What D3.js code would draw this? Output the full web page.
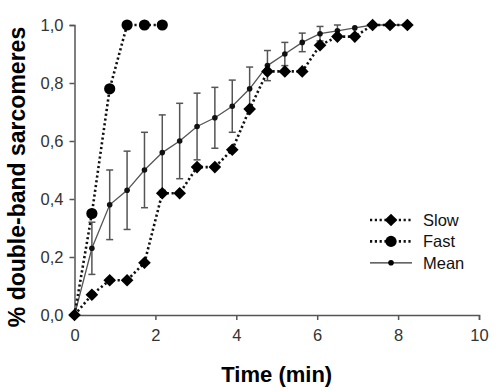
<!DOCTYPE html>
<html lang="en">
<head>
<meta charset="UTF-8">
<title>Double-band sarcomeres</title>
<script src="https://d3js.org/d3.v7.min.js"></script>
<style>
    body { margin: 0; background: #fff; }
    svg { display: block; font-family: "Liberation Sans", Arial, sans-serif; }
</style>
</head>
<body>
<svg width="500" height="391"></svg>
<script>
    // sample times (min) and series
    var times = [0, 0.43, 0.87, 1.3, 1.73, 2.17, 2.6, 3.03, 3.47, 3.9, 4.33, 4.77, 5.2, 5.63, 6.07, 6.5, 6.93, 7.37, 7.8, 8.23];
    var slow = [0, 0.07, 0.12, 0.12, 0.18, 0.42, 0.42, 0.51, 0.51, 0.57, 0.71, 0.84, 0.84, 0.84, 0.93, 0.96, 0.96, 1, 1, 1];
    var fast = [0, 0.35, 0.78, 1, 1, 1];
    var mean = [0, 0.23, 0.38, 0.43, 0.50, 0.56, 0.60, 0.65, 0.68, 0.72, 0.78, 0.86, 0.90, 0.94, 0.97, 0.98, 0.99, 1, 1, 1];
    var meanErr = [0, 0.09, 0.12, 0.135, 0.13, 0.13, 0.13, 0.115, 0.105, 0.09, 0.075, 0.052, 0.04, 0.032, 0.025, 0.02, 0, 0, 0, 0];
    var xTicks = [0, 2, 4, 6, 8, 10];
    var yTicks = [0, 0.2, 0.4, 0.6, 0.8, 1.0];
    var legendNames = ["Slow", "Fast", "Mean"];

    var svg = d3.select("svg");
    var axisColor = "#555";

    var x = d3.scaleLinear().domain([0, 10]).range([74.5, 479]);
    var y = d3.scaleLinear().domain([0, 1]).range([315, 25]);

    var commaFmt = function (d) { return d3.format(".1f")(d).replace(".", ","); };

    // x axis
    var gx = svg.append("g")
        .attr("transform", "translate(0," + y(0) + ")")
        .call(d3.axisBottom(x).tickValues(xTicks).tickSize(5).tickPadding(9).tickFormat(d3.format("d")));
    // y axis
    var gy = svg.append("g")
        .attr("transform", "translate(" + x(0) + ",0)")
        .call(d3.axisLeft(y).tickValues(yTicks).tickSize(5).tickPadding(6).tickFormat(commaFmt));

    [gx, gy].forEach(function (g) {
        g.select(".domain").attr("stroke", axisColor).attr("stroke-width", 1.5);
        g.selectAll(".tick line").attr("stroke", axisColor).attr("stroke-width", 1.5);
        g.selectAll(".tick text").attr("fill", "#333").style("font-size", "16.5px")
            .style("font-family", "'Liberation Sans', Arial, sans-serif");
    });

    // axis titles
    svg.append("text")
        .attr("x", (x(0) + x(10)) / 2 + 0)
        .attr("y", 382)
        .attr("text-anchor", "middle")
        .style("font-size", "22px")
        .style("font-weight", "bold")
        .text("Time (min)");
    svg.append("text")
        .attr("transform", "translate(25,177) rotate(-90)")
        .attr("text-anchor", "middle")
        .style("font-size", "23px")
        .style("font-weight", "bold")
        .text("% double-band sarcomeres");

    var line = d3.line().x(function (d) { return x(d[0]); }).y(function (d) { return y(d[1]); });
    var meanPts = times.map(function (t, i) { return [t, mean[i], meanErr[i]]; });
    var slowPts = times.map(function (t, i) { return [t, slow[i]]; });
    var fastPts = fast.map(function (v, i) { return [times[i], v]; });

    /* ---------- Mean with error bars ---------- */
    svg.append("path")
        .datum(meanPts)
        .attr("d", line)
        .attr("fill", "none")
        .attr("stroke", "#555")
        .attr("stroke-width", 1.3);

    var err = svg.append("g").selectAll("g")
        .data(meanPts.filter(function (d) { return d[2] > 0; }))
        .enter().append("g")
        .attr("stroke", "#555")
        .attr("stroke-width", 1.5);
    err.append("line")
        .attr("x1", function (d) { return x(d[0]); })
        .attr("x2", function (d) { return x(d[0]); })
        .attr("y1", function (d) { return y(d[1] + d[2]); })
        .attr("y2", function (d) { return y(d[1] - d[2]); });
    [1, -1].forEach(function (s) {
        err.append("line")
            .attr("x1", function (d) { return x(d[0]) - 3.5; })
            .attr("x2", function (d) { return x(d[0]) + 3.5; })
            .attr("y1", function (d) { return y(d[1] + s * d[2]); })
            .attr("y2", function (d) { return y(d[1] + s * d[2]); });
    });

    svg.append("g").selectAll("circle")
        .data(meanPts)
        .enter().append("circle")
        .attr("cx", function (d) { return x(d[0]); })
        .attr("cy", function (d) { return y(d[1]); })
        .attr("r", 2.8)
        .attr("fill", "#111");

    /* ---------- Slow and Fast ---------- */
    function dotted(pts) {
        svg.append("path")
            .datum(pts)
            .attr("d", line)
            .attr("fill", "none")
            .attr("stroke", "#111")
            .attr("stroke-width", 2.6)
            .attr("stroke-dasharray", "2.2,2.6");
    }
    dotted(slowPts);
    dotted(fastPts);

    var diamond = d3.symbol().type(d3.symbolSquare).size(80);
    svg.append("g").selectAll("path")
        .data(slowPts)
        .enter().append("path")
        .attr("d", diamond)
        .attr("transform", function (d) { return "translate(" + x(d[0]) + "," + y(d[1]) + ") rotate(45)"; })
        .attr("fill", "#000");

    svg.append("g").selectAll("circle")
        .data(fastPts.slice(1))
        .enter().append("circle")
        .attr("cx", function (d) { return x(d[0]); })
        .attr("cy", function (d) { return y(d[1]); })
        .attr("r", 5.6)
        .attr("fill", "#000");

    /* ---------- Legend ---------- */
    var legend = svg.append("g").selectAll("g")
        .data(legendNames)
        .enter().append("g")
        .attr("transform", function (d, i) { return "translate(370," + (220 + i * 21.4) + ")"; });
    legend.append("line")
        .attr("x1", 0).attr("x2", 42)
        .attr("stroke", function (d) { return d === "Mean" ? "#333" : "#111"; })
        .attr("stroke-width", function (d) { return d === "Mean" ? 1.3 : 2.6; })
        .attr("stroke-dasharray", function (d) { return d === "Mean" ? null : "2.2,2.6"; });
    legend.filter(function (d) { return d === "Slow"; }).append("path")
        .attr("d", diamond)
        .attr("transform", "translate(21,0) rotate(45)");
    legend.filter(function (d) { return d === "Fast"; }).append("circle")
        .attr("cx", 21).attr("r", 5.6);
    legend.filter(function (d) { return d === "Mean"; }).append("circle")
        .attr("cx", 21).attr("r", 2.8);
    legend.append("text")
        .attr("x", 53)
        .attr("dy", "0.36em")
        .style("font-size", "16.5px")
        .attr("fill", "#111")
        .text(function (d) { return d; });
</script>
</body>
</html>
